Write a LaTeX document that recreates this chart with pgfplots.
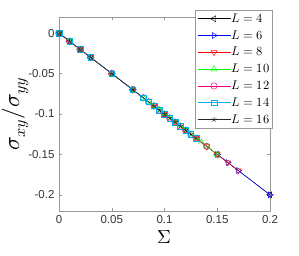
\documentclass[border=0pt]{standalone}
\usepackage{pgfplots}
\pgfplotsset{compat=1.18}
\usepackage{fontspec}
\setmainfont{Liberation Sans}
\usepackage{unicode-math}
\setmathfont{Latin Modern Math}
\begin{document}
\begin{tikzpicture}
\begin{axis}[name=ax,
  scale only axis, width=211pt, height=194pt,
  xmin=0, xmax=0.2, ymin=-0.22, ymax=0.02,
  xtick={0,0.05,0.1,0.15,0.2}, ytick={0,-0.05,-0.1,-0.15,-0.2},
  xticklabels={0,0.05,0.1,0.15,0.2},
  yticklabels={0,-0.05,-0.1,-0.15,-0.2},
  tick align=inside, tick style={color=gray!80, line width=0.4pt}, major tick length=3pt,
  axis line style={gray!80, line width=0.6pt},
  ticklabel style={font=\fontsize{11.5}{13}\selectfont, text=black!80},
  xticklabel style={yshift=-1pt},
  yticklabel style={xshift=-1pt},
  xlabel={$\Sigma$}, ylabel={$\sigma_{xy}/\sigma_{yy}$},
  every axis x label/.style={at={(axis description cs:0.5,-0.134)}, anchor=center},
  every axis y label/.style={at={(axis description cs:-0.205,0.5)}, rotate=90, anchor=center},
  xlabel style={font=\fontsize{19}{21}\selectfont},
  ylabel style={font=\fontsize{23}{25}\selectfont},
  legend style={at={(0.645,1.036)}, anchor=north west, draw=gray!80, fill=white,
    font=\fontsize{12.5}{14}\selectfont, row sep=3.8pt, inner sep=2pt,
    nodes={inner sep=1pt, text height=9pt, text depth=2pt}},
  legend cell align=left,
  legend image code/.code={\draw[mark repeat=2,mark phase=2] plot coordinates {(0cm,0cm) (0.58cm,0cm) (1.16cm,0cm)};},
  every axis plot/.append style={line width=0.45pt},
]
\addplot[black, mark=triangle, mark size=3.4pt, mark options={rotate=90, fill=none}] coordinates {
(0,0) (0.01,-0.01) (0.02,-0.02) (0.03,-0.03) (0.05,-0.05) (0.07,-0.07) (0.1,-0.1) (0.15,-0.15) (0.2,-0.2)};
\addlegendentry{$L=4$}
\addplot[blue, mark=triangle, mark size=3.4pt, mark options={rotate=-90, fill=none}] coordinates {
(0,0) (0.01,-0.01) (0.02,-0.02) (0.03,-0.03) (0.05,-0.05) (0.07,-0.07) (0.1,-0.1) (0.12,-0.12) (0.15,-0.15) (0.16,-0.16) (0.17,-0.17) (0.2,-0.2)};
\addlegendentry{$L=6$}
\addplot[red, mark=triangle, mark size=3.4pt, mark options={rotate=180, fill=none}] coordinates {
(0,0) (0.01,-0.01) (0.02,-0.02) (0.03,-0.03) (0.05,-0.05) (0.07,-0.07) (0.09,-0.09) (0.1,-0.1) (0.11,-0.11) (0.12,-0.12) (0.13,-0.13) (0.14,-0.14) (0.15,-0.15) (0.16,-0.16) (0.17,-0.17)};
\addlegendentry{$L=8$}
\addplot[green, mark=triangle, mark size=3.4pt, mark options={fill=none}] coordinates {
(0,0) (0.01,-0.01) (0.02,-0.02) (0.03,-0.03) (0.05,-0.05) (0.07,-0.07) (0.08,-0.08) (0.085,-0.085) (0.09,-0.09) (0.095,-0.095) (0.1,-0.1) (0.105,-0.105) (0.11,-0.11) (0.115,-0.115) (0.12,-0.12) (0.125,-0.125) (0.13,-0.13) (0.135,-0.135) (0.14,-0.14) (0.15,-0.15)};
\addlegendentry{$L=10$}
\addplot[magenta, mark=o, mark size=3.2pt, mark options={fill=none}] coordinates {
(0,0) (0.01,-0.01) (0.02,-0.02) (0.03,-0.03) (0.05,-0.05) (0.07,-0.07) (0.08,-0.08) (0.085,-0.085) (0.09,-0.09) (0.095,-0.095) (0.1,-0.1) (0.105,-0.105) (0.11,-0.11) (0.115,-0.115) (0.12,-0.12) (0.125,-0.125) (0.13,-0.13) (0.14,-0.14)};
\addlegendentry{$L=12$}
\addplot[cyan, mark=square, mark size=2.8pt, mark options={fill=none}] coordinates {
(0,0) (0.01,-0.01) (0.02,-0.02) (0.03,-0.03) (0.05,-0.05) (0.07,-0.07) (0.08,-0.08) (0.085,-0.085) (0.09,-0.09) (0.095,-0.095) (0.1,-0.1) (0.105,-0.105) (0.11,-0.11) (0.115,-0.115) (0.12,-0.12) (0.125,-0.125) (0.13,-0.13)};
\addlegendentry{$L=14$}
\addplot[black!85, mark=star, mark size=2.6pt, mark options={fill=none}] coordinates {
(0,0) (0.01,-0.01) (0.02,-0.02) (0.03,-0.03) (0.05,-0.05) (0.07,-0.07) (0.09,-0.09) (0.095,-0.095) (0.1,-0.1) (0.105,-0.105) (0.11,-0.11) (0.115,-0.115) (0.12,-0.12) (0.125,-0.125) (0.13,-0.13)};
\addlegendentry{$L=16$}
\end{axis}
\pgfresetboundingbox
\path (ax.south west) ++(-59pt,-45pt) coordinate (bl);
\path (ax.north east) ++(29pt,17pt) coordinate (tr);
\path[use as bounding box] (bl) rectangle (tr);
\end{tikzpicture}
\end{document}
